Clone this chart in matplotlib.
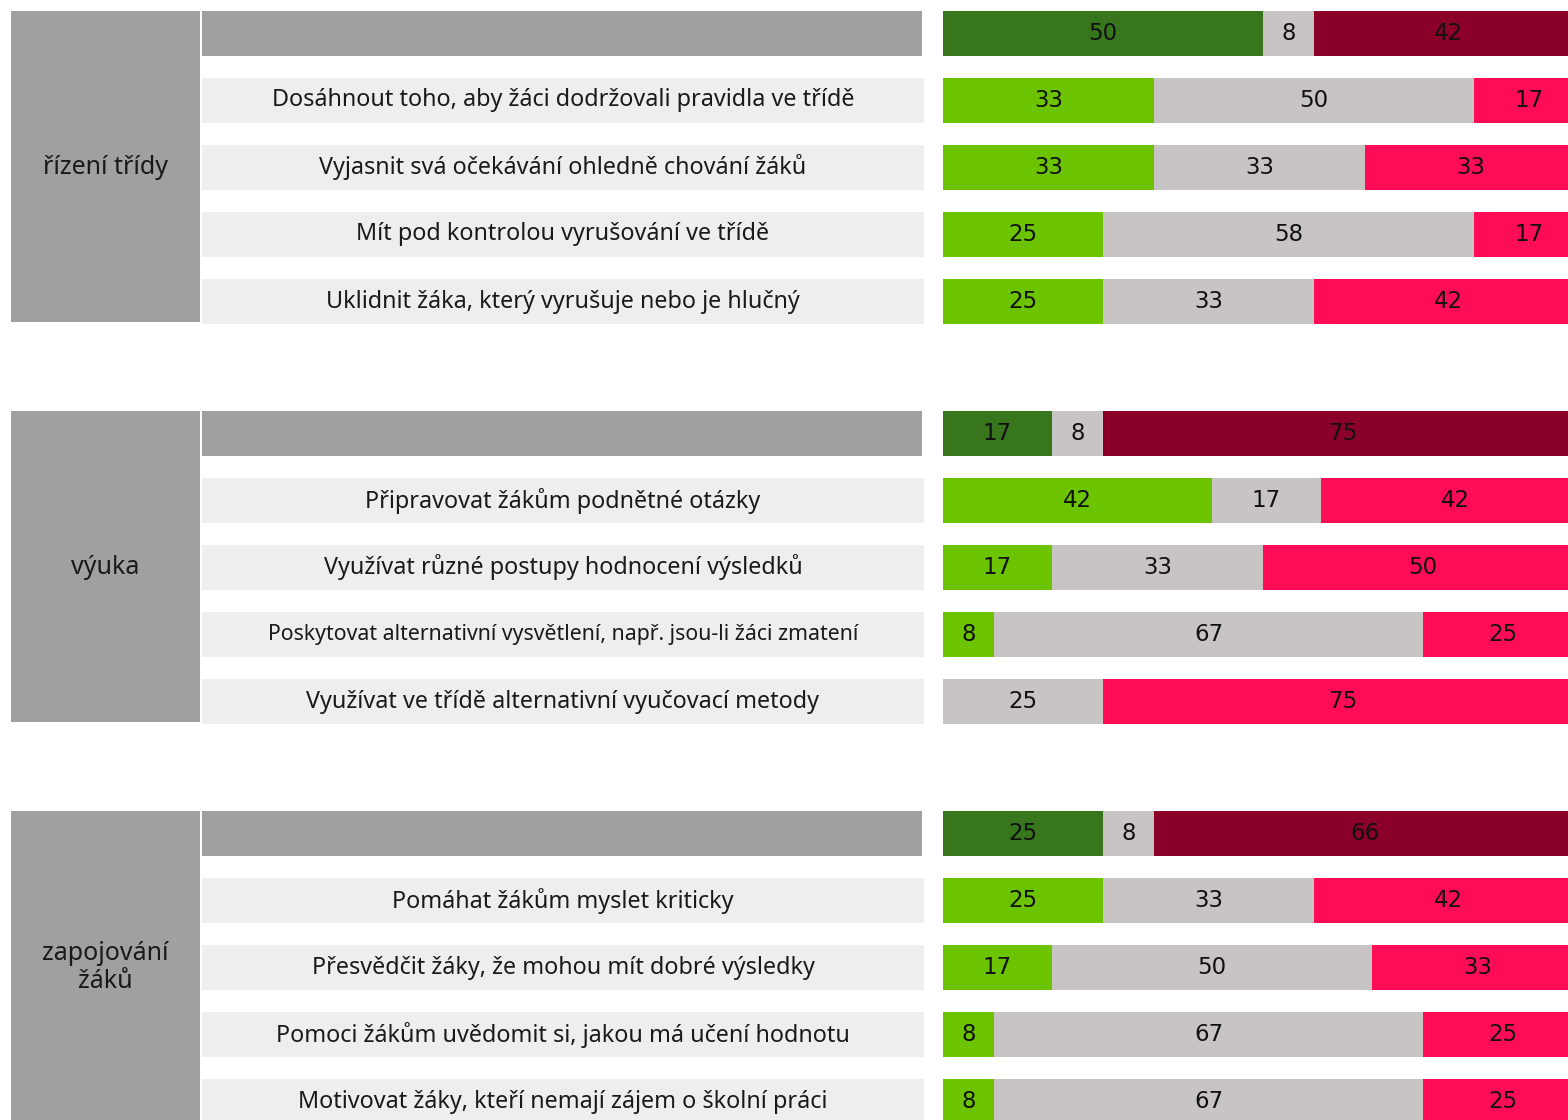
import matplotlib
matplotlib.use("Agg")
from matplotlib import pyplot as plt

# three blocks of statements, share of answers in % (agree / neutral / disagree)
groups = ["řízení třídy", "výuka", "zapojování\nžáků"]

items = [
    ["Dosáhnout toho, aby žáci dodržovali pravidla ve třídě",
     "Vyjasnit svá očekávání ohledně chování žáků",
     "Mít pod kontrolou vyrušování ve třídě",
     "Uklidnit žáka, který vyrušuje nebo je hlučný"],
    ["Připravovat žákům podnětné otázky",
     "Využívat různé postupy hodnocení výsledků",
     "Poskytovat alternativní vysvětlení, např. jsou-li žáci zmatení",
     "Využívat ve třídě alternativní vyučovací metody"],
    ["Pomáhat žákům myslet kriticky",
     "Přesvědčit žáky, že mohou mít dobré výsledky",
     "Pomoci žákům uvědomit si, jakou má učení hodnotu",
     "Motivovat žáky, kteří nemají zájem o školní práci"],
]

# summary row of each block
head_agree = [50, 17, 25]
head_neutral = [8, 8, 8]
head_disagree = [42, 75, 66]

# item rows
agree = [[33, 33, 25, 25], [42, 17, 8, 0], [25, 17, 8, 8]]
neutral = [[50, 33, 58, 33], [17, 33, 67, 25], [33, 50, 67, 67]]
disagree = [[17, 33, 17, 42], [42, 50, 25, 75], [42, 33, 25, 25]]

# colours
C_HEAD = ["#38761d", "#c8c4c3", "#8b0029"]
C_ITEM = ["#6cc400", "#c8c4c3", "#fe0c55"]
C_BOX = "#a0a0a0"
C_ROWBG = "#eeeeee"

W, H = 1568, 1120
ROW_PX = 67.0
GROUP_STEP = 400.0 / ROW_PX
y_top = -33.5 / ROW_PX
y_bot = y_top + H / ROW_PX

fig = plt.figure(figsize=(W / 100, H / 100), dpi=100)

# bar axes: 100 % = 640 px, starts at x=943, right part falls off the figure
ax = fig.add_axes([943 / W, 0, 640 / W, 1])
ax.set_xlim(0, 100)
ax.set_ylim(y_bot, y_top)
ax.axis("off")

# label axes (left box + statement column)
axl = fig.add_axes([11 / W, 0, (924 - 11) / W, 1])
axl.set_xlim(11, 924)
axl.set_ylim(y_bot, y_top)
axl.axis("off")

BAR_H = 0.66
BG_H = 0.68
BOX_TOP = -0.335
BOX_BOT = 4.3


def stacked(y, vals, colors):
    left = 0
    for v, c in zip(vals, colors):
        if v > 0:
            ax.barh(y, v, left=left, height=BAR_H, color=c, linewidth=0)
            ax.text(left + v / 2, y, str(v), ha="center", va="center",
                    fontsize=16.5, color="#111111", family="DejaVu Sans")
        left += v


for g in range(len(groups)):
    y0 = g * GROUP_STEP
    # left group box
    axl.barh(y0 + (BOX_TOP + BOX_BOT) / 2, 200 - 11, left=11,
             height=BOX_BOT - BOX_TOP, color=C_BOX, linewidth=0)
    axl.text((11 + 200) / 2, y0 + 2.0, groups[g], ha="center", va="center",
             fontsize=18, color="#1a1a1a", family="Noto Sans", linespacing=1.15)
    # header strip
    axl.barh(y0, 922 - 202, left=202, height=BAR_H, color=C_BOX, linewidth=0)
    stacked(y0, [head_agree[g], head_neutral[g], head_disagree[g]], C_HEAD)

    for r in range(4):
        y = y0 + 1 + r
        axl.barh(y, 924 - 202, left=202, height=BG_H, color=C_ROWBG, linewidth=0)
        txt = items[g][r]
        fs = 15.3 if len(txt) > 56 else 16.8
        axl.text((202 + 924) / 2, y, txt, ha="center", va="center",
                 fontsize=fs, color="#1a1a1a", family="Noto Sans")
        stacked(y, [agree[g][r], neutral[g][r], disagree[g][r]], C_ITEM)

fig.savefig("out.png", dpi=100)
